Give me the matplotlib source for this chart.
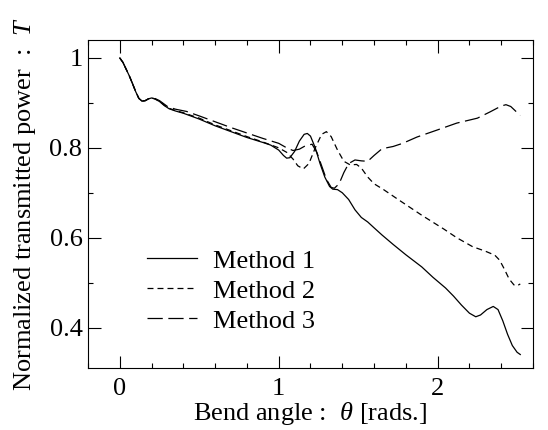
import matplotlib
matplotlib.use("Agg")
import matplotlib.pyplot as plt

plt.rcParams['font.family'] = ['Liberation Serif', 'DejaVu Serif']
plt.rcParams['mathtext.fontset'] = 'custom'
plt.rcParams['mathtext.rm'] = 'Liberation Serif'
plt.rcParams['mathtext.it'] = 'Liberation Serif:italic'
plt.rcParams['lines.scale_dashes'] = False

# Method 1 (solid)
x1 = [0.0, 0.02, 0.04, 0.06, 0.08, 0.10, 0.12, 0.14, 0.16, 0.18, 0.20, 0.22, 0.25,
      0.28, 0.31, 0.35, 0.40, 0.50, 0.60, 0.70, 0.80, 0.90, 0.95, 1.00, 1.03, 1.05,
      1.07, 1.10, 1.13, 1.16, 1.18, 1.20, 1.23, 1.26, 1.29, 1.32, 1.34, 1.37, 1.40,
      1.44, 1.48, 1.52, 1.56, 1.60, 1.65, 1.72, 1.80, 1.90, 1.97, 2.05, 2.10, 2.15,
      2.20, 2.24, 2.27, 2.31, 2.35, 2.38, 2.41, 2.44, 2.47, 2.50, 2.52]
y1 = [1.000, 0.990, 0.975, 0.960, 0.943, 0.925, 0.910, 0.904, 0.905, 0.909, 0.911, 0.909, 0.903,
      0.894, 0.887, 0.882, 0.877, 0.864, 0.849, 0.836, 0.823, 0.812, 0.806, 0.795, 0.783, 0.777,
      0.778, 0.792, 0.815, 0.830, 0.832, 0.826, 0.800, 0.765, 0.735, 0.714, 0.708, 0.707, 0.700,
      0.685, 0.662, 0.645, 0.635, 0.622, 0.606, 0.585, 0.562, 0.535, 0.512, 0.488, 0.470, 0.450,
      0.432, 0.424, 0.428, 0.440, 0.447, 0.440, 0.415, 0.385, 0.360, 0.345, 0.340]

# Method 2 (short dashes)
x2 = [0.0, 0.02, 0.04, 0.06, 0.08, 0.10, 0.12, 0.14, 0.16, 0.18, 0.20, 0.22, 0.25,
      0.28, 0.31, 0.35, 0.40, 0.50, 0.60, 0.70, 0.80, 0.90, 1.00, 1.05, 1.09, 1.12,
      1.155, 1.19, 1.23, 1.27, 1.30, 1.33, 1.37, 1.41, 1.45, 1.49, 1.52, 1.56, 1.60,
      1.66, 1.76, 1.90, 2.04, 2.12, 2.22, 2.30, 2.36, 2.39, 2.42, 2.45, 2.48, 2.50, 2.52]
y2 = [1.000, 0.990, 0.975, 0.960, 0.943, 0.925, 0.910, 0.904, 0.905, 0.909, 0.911, 0.909, 0.904,
      0.895, 0.888, 0.883, 0.878, 0.866, 0.851, 0.838, 0.825, 0.813, 0.800, 0.790, 0.775, 0.760,
      0.753, 0.765, 0.800, 0.830, 0.836, 0.825, 0.795, 0.770, 0.762, 0.763, 0.755, 0.735, 0.720,
      0.707, 0.683, 0.650, 0.619, 0.600, 0.580, 0.570, 0.561, 0.550, 0.530, 0.508, 0.495, 0.493, 0.497]

# Method 3 (long dashes)
x3 = [0.0, 0.02, 0.04, 0.06, 0.08, 0.10, 0.12, 0.14, 0.16, 0.18, 0.20, 0.22, 0.25,
      0.30, 0.35, 0.42, 0.50, 0.60, 0.70, 0.80, 0.90, 1.00, 1.05, 1.09, 1.13, 1.17,
      1.21, 1.24, 1.27, 1.30, 1.33, 1.35, 1.38, 1.41, 1.44, 1.48, 1.52, 1.56, 1.60,
      1.65, 1.72, 1.78, 1.87, 2.00, 2.12, 2.25, 2.33, 2.40, 2.43, 2.46, 2.49, 2.52]
y3 = [1.000, 0.990, 0.975, 0.960, 0.943, 0.925, 0.910, 0.904, 0.905, 0.909, 0.911, 0.910, 0.905,
      0.892, 0.886, 0.881, 0.871, 0.858, 0.845, 0.833, 0.821, 0.810, 0.800, 0.794, 0.797, 0.805,
      0.808, 0.790, 0.760, 0.730, 0.712, 0.710, 0.720, 0.745, 0.765, 0.773, 0.771, 0.770, 0.783,
      0.798, 0.803, 0.810, 0.824, 0.840, 0.855, 0.866, 0.880, 0.893, 0.896, 0.892, 0.882, 0.872]

labels = ['Method 1', 'Method 2', 'Method 3']

fig = plt.figure(figsize=(5.48, 4.3), dpi=100)
ax = fig.add_axes([0.1606, 0.1442, 0.812, 0.7628])

ax.plot(x1, y1, color='black', lw=0.9, linestyle='-', label=labels[0])
ax.plot(x2, y2, color='black', lw=0.9, linestyle=(0, (4.3, 2.9)), label=labels[1])
ax.plot(x3, y3, color='black', lw=0.9, linestyle=(0, (11, 4)), label=labels[2])

ax.set_xlim(-0.2, 2.6)
ax.set_ylim(0.31, 1.04)
ax.set_xticks([0, 1, 2])
ax.set_xticks([i * 0.2 for i in range(-1, 14)], minor=True)
ax.set_yticks([0.4, 0.6, 0.8, 1.0])
ax.set_yticklabels(['0.4', '0.6', '0.8', '1'])
ax.set_yticks([0.4, 0.5, 0.6, 0.7, 0.8, 0.9, 1.0], minor=True)

ax.tick_params(which='both', direction='in', top=True, right=True, width=0.8)
ax.tick_params(which='major', length=9, labelsize=19)
ax.tick_params(which='minor', length=3.5)
ax.tick_params(axis='x', pad=7)
ax.tick_params(axis='y', pad=4)
for s in ax.spines.values():
    s.set_linewidth(0.8)

ax.set_xlabel(r'Bend angle :  $\theta$ [rads.]', fontsize=19, labelpad=0)
ax.set_ylabel(r'Normalized transmitted power  :  $T$', fontsize=19, labelpad=8)

ax.legend(loc='center left', bbox_to_anchor=(0.132, 0.235), frameon=False,
          fontsize=19, handlelength=1.9, handletextpad=0.6, labelspacing=0.25,
          borderpad=0, borderaxespad=0)

fig.savefig('out.png', dpi=100)
